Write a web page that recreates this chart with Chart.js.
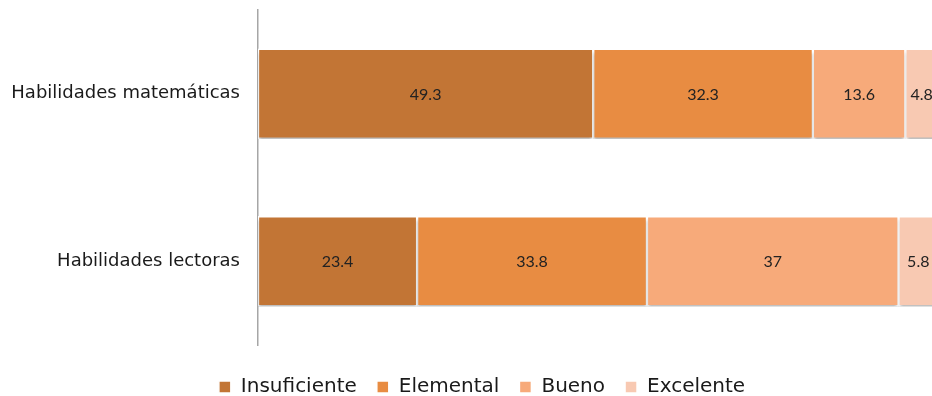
<!DOCTYPE html>
<html><head><meta charset="utf-8">
<script src="https://cdn.jsdelivr.net/npm/chart.js@4.4.0/dist/chart.umd.min.js"></script>
<style>
html,body{margin:0;padding:0;background:#fff;overflow:hidden;}
#wrap{width:932px;height:396px;overflow:hidden;position:relative;}
#box{width:940px;height:396px;position:absolute;left:0;top:0;}
</style></head><body>
<div id="wrap"><div id="box"><canvas id="c"></canvas></div></div>
<script>
const categories = ["Habilidades matemáticas", "Habilidades lectoras"];
const seriesNames = ["Insuficiente", "Elemental", "Bueno", "Excelente"];
const insuficiente = [49.3, 23.4];
const elemental = [32.3, 33.8];
const bueno = [13.6, 37];
const excelente = [4.8, 5.8];
const colors = ["#C27535", "#E88C42", "#F7AA7A", "#F8C9B2"];

const FONT = "'DejaVu Sans', sans-serif";
const LABEL_FONT = "Lato, 'Open Sans', sans-serif";
const seriesValues = [insuficiente, elemental, bueno, excelente];

const labelPlugin = {
  id: 'valueLabels',
  afterDatasetsDraw(chart) {
    const ctx = chart.ctx;
    ctx.save();
    ctx.font = "16px " + LABEL_FONT;
    ctx.fillStyle = "#222";
    ctx.textAlign = "center";
    ctx.textBaseline = "middle";
    chart.data.datasets.forEach((ds, i) => {
      chart.getDatasetMeta(i).data.forEach((el, j) => {
        const p = el.getProps(['x','base','y'], true);
        ctx.fillText(String(ds.data[j]), (p.x + p.base) / 2, p.y + 1);
      });
    });
    ctx.restore();
  }
};
const shadowPlugin = {
  id: 'barShadow',
  beforeDatasetsDraw(chart) {
    const ctx = chart.ctx;
    ctx.save();
    ctx.shadowColor = "rgba(0,0,0,0.28)";
    ctx.shadowBlur = 3;
    ctx.shadowOffsetY = 3;
  },
  afterDatasetsDraw(chart) { chart.ctx.restore(); }
};
const legendShift = {
  id: 'legendShift',
  afterLayout(chart) { if (chart.legend) chart.legend.left += 26; }
};

new Chart(document.getElementById('c'), {
  type: 'bar',
  data: {
    labels: categories,
    datasets: seriesNames.map((n, i) => ({
      label: n,
      data: seriesValues[i],
      backgroundColor: colors[i],
      borderColor: "#ffffff",
      borderWidth: 1.5,
      borderSkipped: false,
      barThickness: 90
    }))
  },
  options: {
    indexAxis: 'y',
    responsive: true,
    maintainAspectRatio: false,
    animation: false,
    layout: { padding: { top: 10, right: 2, left: 0, bottom: -11 } },
    scales: {
      x: {
        stacked: true, min: 0, max: 100, display: true,
        grid: { display: false, drawTicks: false },
        border: { display: false },
        ticks: { display: false },
        afterFit(scale) { scale.height = 12; }
      },
      y: {
        stacked: true,
        grid: { display: false, drawTicks: false },
        border: { display: true, color: "#a6a6a6", width: 1.5 },
        ticks: { font: { size: 18, family: FONT }, color: "#1a1a1a", padding: 18 },
        afterFit(scale) { scale.width = 258; scale.paddingTop = 0; scale.paddingBottom = 0; }
      }
    },
    plugins: {
      legend: {
        position: 'bottom',
        labels: {
          boxWidth: 12, boxHeight: 12, padding: 20,
          color: "#1a1a1a",
          font: { size: 20, family: FONT }
        }
      },
      tooltip: { enabled: false }
    }
  },
  plugins: [shadowPlugin, labelPlugin, legendShift]
});
</script>
</body></html>
